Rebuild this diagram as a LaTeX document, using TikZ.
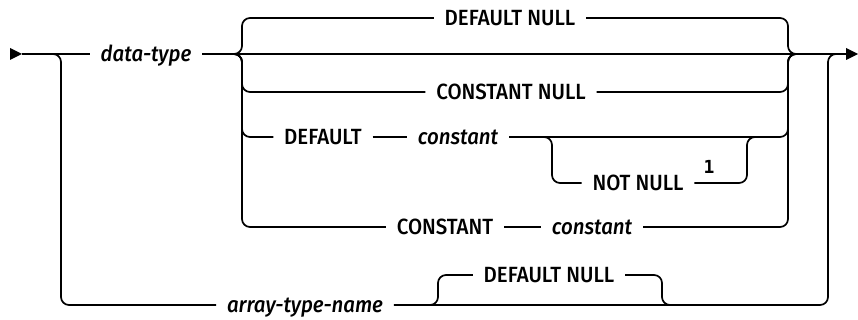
\documentclass[tikz,border=0pt]{standalone}
\usepackage{fontspec}
\setmainfont{Fira Sans}[UprightFont={* Medium},ItalicFont={* Medium Italic}]
\newfontfamily\supfont{DejaVu Sans Mono}
\newcommand{\sq}[1]{\scalebox{0.93}[1]{#1}}
\begin{document}
\begin{tikzpicture}[x=1pt,y=-1pt,line width=1.7pt,
  rr/.style={rounded corners=8pt},
  lbl/.style={inner xsep=10pt,inner ysep=0pt,text height=15pt,text depth=0pt,font=\fontsize{22}{26}\selectfont},
  kw/.style={lbl},
  var/.style={lbl,font=\fontsize{22}{26}\selectfont\itshape},
  supnum/.style={inner sep=0pt,font=\supfont\bfseries\fontsize{18}{20}\selectfont}]
\useasboundingbox (0,0) rectangle (858,320);
% junctions
\coordinate (start) at (22,54);
\coordinate (end) at (846,54);
\coordinate (bl) at (232,54);
\coordinate (br) at (798,54);
\coordinate (nl) at (542,137);
\coordinate (nr) at (757,137);
\coordinate (ol) at (430,305);
\coordinate (or) at (670,305);
\coordinate (ar) at (838,54);
% labels
\node[var] (dt) at (146,54) {\sq{data-type}};
\node[kw] (dn1) at (510,18) {\sq{DEFAULT NULL}};
\node[kw] (cn) at (511,92) {\sq{CONSTANT NULL}};
\node[kw] (dflt) at (323,137) {\sq{DEFAULT}};
\node[var] (c1) at (458,137) {\sq{constant}};
\node[kw] (nn) at (638,183) {\sq{NOT NULL}};
\node[supnum] (fn) at (709,167) {1};
\node[kw] (cst) at (445,227) {\sq{CONSTANT}};
\node[var] (c2) at (592,227) {\sq{constant}};
\node[var] (atn) at (305,305) {\sq{array-type-name}};
\node[kw] (dn2) at (549,275) {\sq{DEFAULT NULL}};
% arrow heads
\fill (start) -- ++(-12,-6) -- ++(0,12) -- cycle;
\fill (end) -- ++(0,-6) -- ++(12,6) -- ++(-12,6) -- cycle;
% main line
\draw (start) -- (dt.west);
\draw (dt.east) -- (end);
% choice group
\draw[rr] (bl) -| (242,18) -- (dn1.west);
\draw[rr] (dn1.east) -| (788,54) -- (br);
\draw[rr] (bl) -| (242,92) -- (cn.west);
\draw[rr] (cn.east) -| (788,54) -- (br);
\draw[rr] (bl) -| (242,137) -- (dflt.west);
\draw (dflt.east) -- (c1.west);
\draw[rr] (c1.east) -| (788,54) -- (br);
\draw[rr] (nl) -| (552,183) -- (nn.west);
\draw[rr] (nn.east) -| (747,137) -- (nr);
\draw[rr] (bl) -| (242,227) -- (cst.west);
\draw (cst.east) -- (c2.west);
\draw[rr] (c2.east) -| (788,54) -- (br);
% array branch
\draw[rr] (start) -| (61,305) -- (atn.west);
\draw[rr] (atn.east) -| (828,54) -- (ar);
\draw[rr] (ol) -| (438,275) -- (dn2.west);
\draw[rr] (dn2.east) -| (662,305) -- (or);
\end{tikzpicture}
\end{document}
